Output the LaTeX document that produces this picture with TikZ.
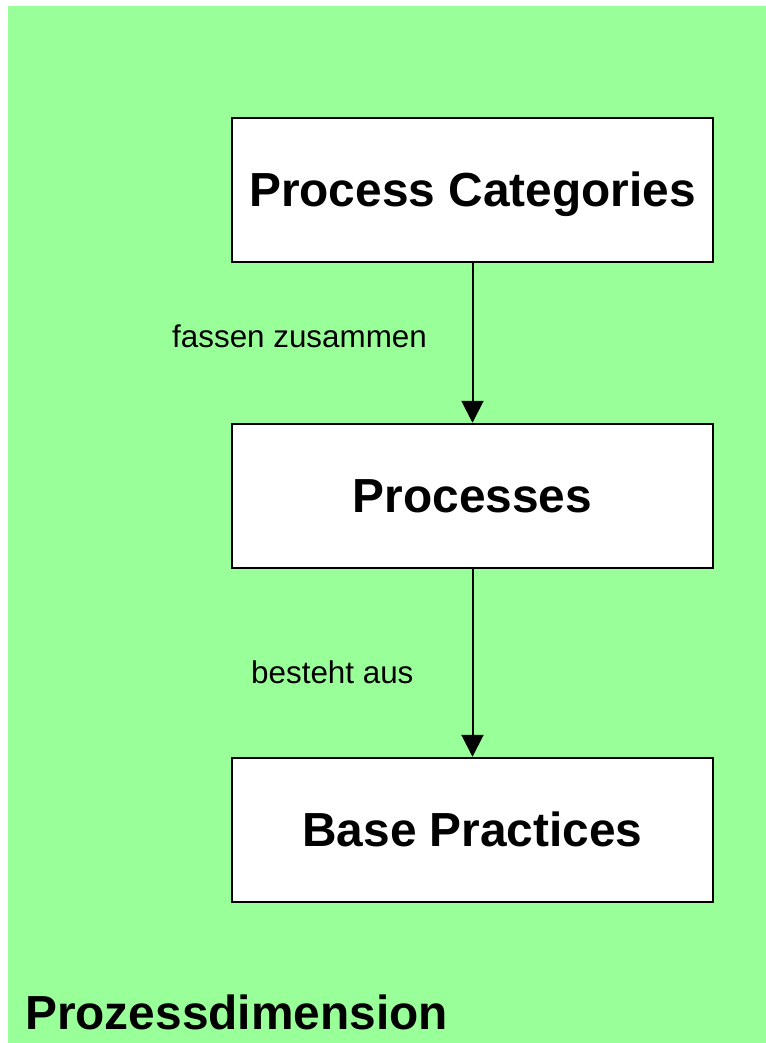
\documentclass[tikz,border=0pt]{standalone}
\usepackage{fontspec}
\setmainfont{Liberation Sans}
\usetikzlibrary{arrows.meta}
\definecolor{dimgreen}{HTML}{99FF99}

\begin{document}
\begin{tikzpicture}[x=1bp, y=-1bp,
  block/.style={rectangle, draw=black, line width=2.5bp, fill=white, minimum width=481bp, minimum height=144bp, text height=38bp, text depth=5bp, font=\fontsize{48}{58}\selectfont\bfseries},
  verb/.style={anchor=base west, inner sep=0pt, font=\fontsize{31.5}{38}\selectfont},
  link/.style={line width=2bp, -{Triangle[width=22bp, length=22bp]}}]

  \useasboundingbox (0,0) rectangle (766,1043);
  \fill[dimgreen] (8,6) rectangle (766,1043);

  \node[block] at (472.5,190) (pc) {Process Categories};
  \node[block, below] at ([yshift=-159.5bp]pc.south) (pr) {Processes};
  \node[block, below] at ([yshift=-187.5bp]pr.south) (bp) {Base Practices};

  \node[verb] at (172,347) (l1) {fassen zusammen};
  \node[verb] at (251,683) (l2) {besteht aus};
  \node[anchor=base west, inner sep=0pt, font=\fontsize{48}{58}\selectfont\bfseries] at (25,1029) (dim) {Prozessdimension};

  \draw[link] (pc) -- (pr);
  \draw[link] (pr) -- (bp);

\end{tikzpicture}
\end{document}
